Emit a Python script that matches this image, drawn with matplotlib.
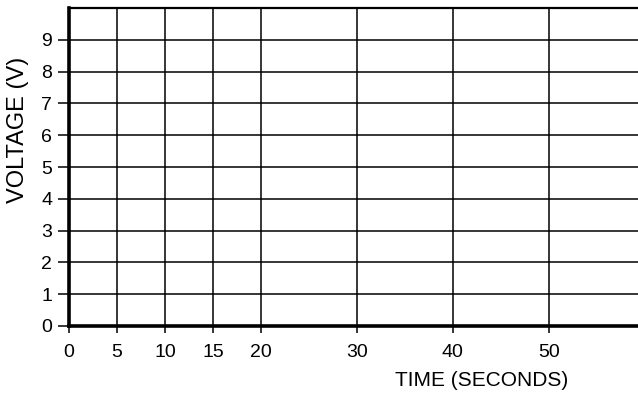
import matplotlib
matplotlib.use("Agg")
import matplotlib.pyplot as plt

# Données de la grille (graphique vierge tension / temps)
x_ticks = [0, 5, 10, 15, 20, 30, 40, 50]
y_ticks = [0, 1, 2, 3, 4, 5, 6, 7, 8, 9]
x_max = 59.3           # le bord droit est coupé par l'image
y_max = 10
x_label = "TIME (SECONDS)"
y_label = "VOLTAGE (V)"

plt.rcParams['font.family'] = ['Liberation Sans', 'DejaVu Sans']

fig = plt.figure(figsize=(6.38, 3.95), dpi=100)
ax = fig.add_axes([69 / 638, 1 - 326 / 395, 1 - 69 / 638, (326 - 8) / 395])

ax.set_xlim(0, x_max)
ax.set_ylim(0, y_max)
ax.set_xticks(x_ticks)
ax.set_yticks(y_ticks)
ax.set_xticklabels([str(v) for v in x_ticks], fontsize=14)
ax.set_yticklabels([str(v) for v in y_ticks], fontsize=14)

# quadrillage noir
ax.grid(True, color='black', linewidth=1.1)
ax.set_axisbelow(False)

# bordures : gauche et bas épaisses, haut plus fine, pas de bord droit
ax.spines['left'].set_linewidth(2.6)
ax.spines['bottom'].set_linewidth(2.6)
ax.spines['top'].set_linewidth(1.6)
ax.spines['right'].set_visible(False)

ax.tick_params(axis='y', direction='out', length=8, width=1.1, pad=4)
ax.tick_params(axis='x', direction='out', length=5, width=1.1, pad=8)

# étiquettes des axes (placées comme sur l'original)
fig.text(18 / 638, 1 - 130 / 395, y_label, rotation=90, ha='center', va='center', fontsize=17)
fig.text(482 / 638, 1 - 380 / 395, x_label, ha='center', va='center', fontsize=15)

fig.savefig("out.png", dpi=100)
